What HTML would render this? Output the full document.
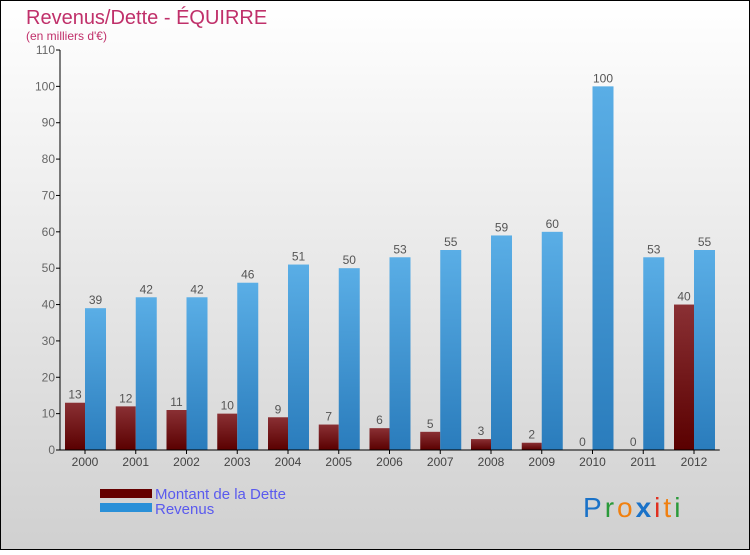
<!DOCTYPE html>
<html><head><meta charset="utf-8"><style>
html,body{margin:0;padding:0}
body{width:750px;height:550px;overflow:hidden;font-family:"Liberation Sans",sans-serif}
</style></head><body>
<svg id="chart" width="750" height="550" xmlns="http://www.w3.org/2000/svg">
<defs>
<linearGradient id="bg" x1="0" y1="0" x2="0" y2="1"><stop offset="0" stop-color="#ffffff"/><stop offset="1" stop-color="#d0d0d0"/></linearGradient>
<linearGradient id="gd" x1="0" y1="0" x2="0" y2="1"><stop offset="0" stop-color="#8a3034"/><stop offset="1" stop-color="#5a0000"/></linearGradient>
<linearGradient id="gr" x1="0" y1="0" x2="0" y2="1"><stop offset="0" stop-color="#5aaee6"/><stop offset="1" stop-color="#2a7cbc"/></linearGradient>
</defs>
<rect x="0.5" y="0.5" width="749" height="549" fill="url(#bg)" stroke="#000"/>
<text x="26" y="24" font-size="20" fill="#c0306a">Revenus/Dette - ÉQUIRRE</text>
<text x="26" y="40" font-size="12" fill="#c0306a">(en milliers d'€)</text>
<g id="yaxis"></g><g id="bars"></g><g id="xaxis"></g>
<rect x="100" y="489" width="52" height="9" fill="#650000"/>
<text x="155" y="499" font-size="15" fill="#5a5aee">Montant de la Dette</text>
<rect x="100" y="503" width="52" height="9" fill="#2a90d8"/>
<text x="155" y="514" font-size="15" fill="#5a5aee">Revenus</text>
<g font-size="28" font-family="'Liberation Sans',sans-serif">
<text x="583" y="517" letter-spacing="3"><tspan fill="#1a72c8">P</tspan><tspan fill="#2a9a3a">r</tspan><tspan fill="#f08010">o</tspan><tspan fill="#1a72c8" font-weight="bold">x</tspan><tspan fill="#e03020">i</tspan><tspan fill="#f08010">t</tspan><tspan fill="#2a9a3a">i</tspan></text>
</g>
</svg>
<script>
const years=["2000","2001","2002","2003","2004","2005","2006","2007","2008","2009","2010","2011","2012"];
const debt=[13,12,11,10,9,7,6,5,3,2,0,0,40];
const revenue=[39,42,42,46,51,50,53,55,59,60,100,53,55];
const yTicks=[0,10,20,30,40,50,60,70,80,90,100,110];
const NS="http://www.w3.org/2000/svg";
const x0=60,gw=50.75,yb=450,ppu=400/110;
const y=v=>yb-v*ppu;
function mk(t,a,p){const e=document.createElementNS(NS,t);for(const k in a)e.setAttribute(k,a[k]);p.appendChild(e);return e;}
const ya=document.getElementById('yaxis'),ba=document.getElementById('bars'),xa=document.getElementById('xaxis');
yTicks.forEach(v=>{
 const l=mk('line',{x1:56,x2:60,y1:y(v),y2:y(v),stroke:'#000'},ya);
 
 
 const t=mk('text',{x:55,y:y(v)+4,'font-size':12,fill:'#666','text-anchor':'end'},ya);
 t.textContent=v;
 
 
});
years.forEach((yr,i)=>{
 const gx=x0+i*gw;
 const d=mk('rect',{x:gx+5,y:y(debt[i]),width:20,height:debt[i]*ppu,fill:'url(#gd)'},ba);
 
 
 const r=mk('rect',{x:gx+25,y:y(revenue[i]),width:21,height:revenue[i]*ppu,fill:'url(#gr)'},ba);
 
 
 const dl=mk('text',{x:gx+15,y:y(debt[i])-4,'font-size':12,fill:'#555','text-anchor':'middle'},ba);
 dl.textContent=debt[i];
 
 
 const rl=mk('text',{x:gx+35.5,y:y(revenue[i])-4,'font-size':12,fill:'#555','text-anchor':'middle'},ba);
 rl.textContent=revenue[i];
 
 
 const tk=mk('line',{x1:gx+25,x2:gx+25,y1:450,y2:454,stroke:'#000'},xa);
 
 
 const xl=mk('text',{x:gx+25,y:466,'font-size':12,fill:'#444','text-anchor':'middle'},xa);
 xl.textContent=yr;
 
 
});
const yl=mk('line',{x1:60,x2:60,y1:y(110),y2:450,stroke:'#000'},ya);


const xl2=mk('line',{x1:60,x2:x0+13*gw,y1:450,y2:450,stroke:'#000'},xa);


</script>
</body></html>
